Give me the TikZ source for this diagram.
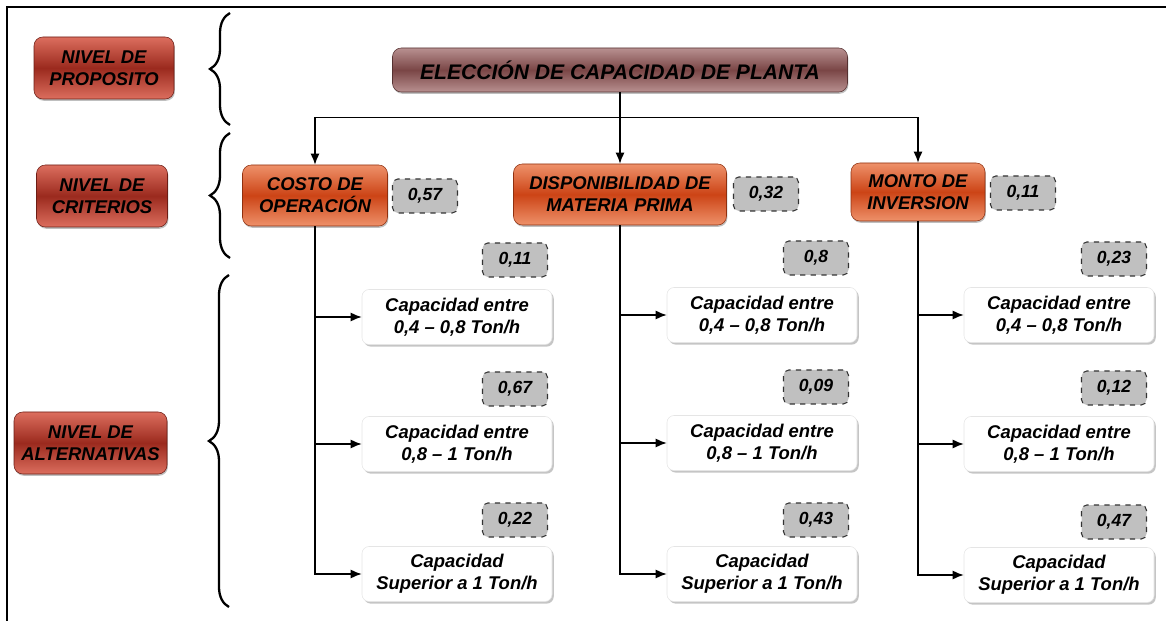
\documentclass[tikz,border=0pt]{standalone}
\usepackage{fontspec}
\setmainfont{Liberation Sans}
\usetikzlibrary{positioning, arrows.meta, shadows, decorations.pathreplacing}
\definecolor{nivelDark}{HTML}{9B2A1E}
\definecolor{nivelLight}{HTML}{DC6E5E}
\definecolor{critDark}{HTML}{CC4416}
\definecolor{critLight}{HTML}{EE916A}
\definecolor{rootDark}{HTML}{7A4646}
\definecolor{rootLight}{HTML}{B89090}
\definecolor{pesoGray}{HTML}{C0C0C0}

\begin{document}
\begin{tikzpicture}[
  every node/.style={font=\fontsize{10.5}{12.5}\selectfont\bfseries\itshape, align=center, inner sep=2pt},
  nivel/.style={
    top color=nivelLight, bottom color=nivelLight, middle color=nivelDark,
    draw=nivelDark!70!black, line width=0.3pt,
    rounded corners=5pt,
    minimum height=1.24cm,
    drop shadow={shadow xshift=0.5pt, shadow yshift=-1pt, opacity=0.5}
  },
  root/.style={
    top color=rootLight, bottom color=rootLight, middle color=rootDark,
    draw=rootDark!70!black, line width=0.3pt,
    rounded corners=5pt,
    minimum width=9.1cm, minimum height=0.88cm,
    font=\fontsize{12}{14}\selectfont\bfseries\itshape,
    drop shadow={shadow xshift=0.5pt, shadow yshift=-1pt, opacity=0.5}
  },
  criterio/.style={
    top color=critLight, bottom color=critLight, middle color=critDark,
    draw=critDark!70!black, line width=0.3pt,
    rounded corners=5pt,
    minimum height=1.22cm,
    drop shadow={shadow xshift=0.5pt, shadow yshift=-1pt, opacity=0.5}
  },
  peso/.style={
    fill=pesoGray,
    draw=black!80, dashed, line width=0.6pt,
    rounded corners=3pt,
    minimum width=1.3cm, minimum height=0.68cm,
    font=\fontsize{10}{12}\selectfont\bfseries\itshape
  },
  alterna/.style={
    fill=white,
    draw=black!10, line width=0.3pt,
    rounded corners=4pt,
    minimum width=3.8cm, minimum height=1.1cm,
    drop shadow={shadow xshift=1pt, shadow yshift=-1.2pt, fill=black!45}
  },
  link/.style={draw, -{Latex[length=2.2mm, width=1.8mm]}, line width=0.8pt},
  llave/.style={draw, line width=1.3pt, decorate, decoration={brace, amplitude=0.4cm}},
  marco/.style={draw, line width=1.2pt}
]

\useasboundingbox (0,0) rectangle (23.32,-12.42);
\draw[marco] (0.14,-12.42) |- (23.32,-0.14);

\node[nivel, minimum width=2.8cm] (proposito) at (2.08,-1.36) {NIVEL DE\\PROPOSITO};
\node[nivel, minimum width=2.62cm] (criterios) at (2.04,-3.92) {NIVEL DE\\CRITERIOS};
\node[nivel, minimum width=3.06cm] (alternativas) at (1.81,-8.86) {NIVEL DE\\ALTERNATIVAS};

\coordinate (b1s) at (4.6,-2.5);
\coordinate (b1n) at (4.6,-0.26);
\coordinate (b2s) at (4.6,-5.16);
\coordinate (b2n) at (4.6,-2.66);
\coordinate (b3s) at (4.58,-12.14);
\coordinate (b3n) at (4.58,-5.5);
\draw[llave] (b1s) -- (b1n);
\draw[llave] (b2s) -- (b2n);
\draw[llave] (b3s) -- (b3n);

\node[root] (eleccion) at (12.4,-1.4) {ELECCIÓN DE CAPACIDAD DE PLANTA};

\node[criterio, minimum width=2.9cm] (costo) at (6.3,-3.91) {COSTO DE\\OPERACIÓN};
\node[criterio, minimum width=4.26cm] (dispo) at (12.4,-3.89) {DISPONIBILIDAD DE\\MATERIA PRIMA};
\node[criterio, minimum width=2.68cm, minimum height=1.16cm] (monto) at (18.36,-3.84) {MONTO DE\\INVERSION};

\node[peso] (pcosto) at (8.5,-3.92) {0,57};
\node[peso] (pdispo) at (15.32,-3.88) {0,32};
\node[peso] (pmonto) at (20.46,-3.86) {0,11};

\draw[link] (eleccion.south) -- ++(0,-0.5) -| (costo.north);
\draw[link] (eleccion.south) -- ++(0,-0.5) -| (dispo.north);
\draw[link] (eleccion.south) -- ++(0,-0.5) -| (monto.north);

% alternativas por criterio
\node[alterna] (c1) at (9.14,-6.34) {Capacidad entre\\0,4 -- 0,8 Ton/h};
\node[alterna] (c2) at (9.14,-8.88) {Capacidad entre\\0,8 -- 1 Ton/h};
\node[alterna] (c3) at (9.14,-11.48) {Capacidad\\Superior a 1 Ton/h};
\node[alterna] (d1) at (15.24,-6.3) {Capacidad entre\\0,4 -- 0,8 Ton/h};
\node[alterna] (d2) at (15.24,-8.86) {Capacidad entre\\0,8 -- 1 Ton/h};
\node[alterna] (d3) at (15.24,-11.48) {Capacidad\\Superior a 1 Ton/h};
\node[alterna] (m1) at (21.18,-6.3) {Capacidad entre\\0,4 -- 0,8 Ton/h};
\node[alterna] (m2) at (21.18,-8.88) {Capacidad entre\\0,8 -- 1 Ton/h};
\node[alterna] (m3) at (21.18,-11.5) {Capacidad\\Superior a 1 Ton/h};

\node[peso] (pc1) at (10.3,-5.2) {0,11};
\node[peso] (pc2) at (10.3,-7.78) {0,67};
\node[peso] (pc3) at (10.3,-10.4) {0,22};
\node[peso] (pd1) at (16.32,-5.16) {0,8};
\node[peso] (pd2) at (16.32,-7.74) {0,09};
\node[peso] (pd3) at (16.32,-10.4) {0,43};
\node[peso] (pm1) at (22.28,-5.18) {0,23};
\node[peso] (pm2) at (22.28,-7.76) {0,12};
\node[peso] (pm3) at (22.28,-10.44) {0,47};

\draw[link] (costo.south) |- (c3.west);
\draw[link] (costo.south |- c1.west) -- (c1.west);
\draw[link] (costo.south |- c2.west) -- (c2.west);
\draw[link] (dispo.south) |- (d3.west);
\draw[link] (dispo.south |- d1.west) -- (d1.west);
\draw[link] (dispo.south |- d2.west) -- (d2.west);
\draw[link] (monto.south) |- (m3.west);
\draw[link] (monto.south |- m1.west) -- (m1.west);
\draw[link] (monto.south |- m2.west) -- (m2.west);

\end{tikzpicture}
\end{document}
